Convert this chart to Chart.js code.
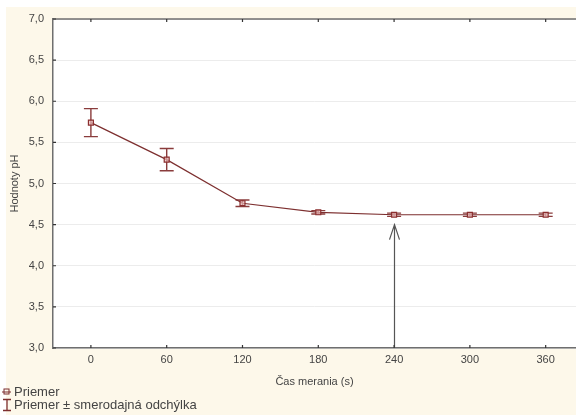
<!DOCTYPE html>
<html>
<head>
<meta charset="utf-8">
<script src="https://cdn.jsdelivr.net/npm/chart.js@4.4.0/dist/chart.umd.min.js"></script>
<style>
  html, body { margin: 0; padding: 0; background: #fff; }
  #wrap { width: 576px; height: 415px; }
</style>
</head>
<body>
<div id="wrap"><canvas id="ph"></canvas></div>
<script>
// measurement times (s), mean pH and standard deviation
const times = [0, 60, 120, 180, 240, 300, 360];
const meanPh = [5.74, 5.29, 4.76, 4.65, 4.62, 4.62, 4.62];
const sdPh = [0.17, 0.135, 0.04, 0.02, 0.02, 0.02, 0.02];
const xTicks = [0, 60, 120, 180, 240, 300, 360];
const arrowAt = 240;
const arrowTop = 4.5;

const lineColor = '#7d2f2f';
const axisColor = '#6f6f6f';
const textColor = '#444';
const fontFamily = 'Liberation Sans, Arial, sans-serif';

const comma = v => Number(v).toFixed(1).replace('.', ',');

// page frame, top border and inward tick marks
const framePlugin = {
  id: 'frame',
  beforeDraw(chart) {
    const { ctx, chartArea: a } = chart;
    ctx.save();
    ctx.fillStyle = '#fff';
    ctx.fillRect(0, 0, chart.width, chart.height);
    ctx.fillStyle = '#fdf8ea';
    ctx.fillRect(6, 7, chart.width - 6, chart.height - 7);
    ctx.fillStyle = '#fff';
    ctx.fillRect(a.left, a.top, a.right - a.left, a.bottom - a.top);
    ctx.restore();
  },
  afterDraw(chart) {
    const { ctx, chartArea: a, scales } = chart;
    ctx.save();
    ctx.strokeStyle = axisColor;
    ctx.lineWidth = 1.5;
    ctx.beginPath();
    ctx.moveTo(a.left, a.top);
    ctx.lineTo(a.right, a.top);
    ctx.stroke();
    ctx.lineWidth = 1.2;
    ctx.strokeStyle = '#333';
    ctx.beginPath();
    xTicks.forEach(t => {
      const px = scales.x.getPixelForValue(t);
      ctx.moveTo(px, a.top); ctx.lineTo(px, a.top + 3);
      ctx.moveTo(px, a.bottom); ctx.lineTo(px, a.bottom - 3);
    });
    scales.y.ticks.forEach(t => {
      const py = scales.y.getPixelForValue(t.value);
      ctx.moveTo(a.left, py); ctx.lineTo(a.left + 3, py);
    });
    ctx.stroke();

    // legend
    ctx.font = '13px ' + fontFamily;
    ctx.fillStyle = textColor;
    ctx.textBaseline = 'middle';
    ctx.fillText('Priemer', 14, 392);
    ctx.fillText('Priemer \u00b1 smerodajn\u00e1 odch\u00fdlka', 14, 405);
    ctx.strokeStyle = lineColor;
    ctx.lineWidth = 1;
    ctx.beginPath();
    ctx.moveTo(2, 392); ctx.lineTo(11, 392);
    ctx.stroke();
    ctx.strokeRect(4, 389, 5, 5);
    ctx.lineWidth = 1.3;
    ctx.beginPath();
    ctx.moveTo(3, 399.5); ctx.lineTo(11, 399.5);
    ctx.moveTo(7, 399.5); ctx.lineTo(7, 410.5);
    ctx.moveTo(3, 410.5); ctx.lineTo(11, 410.5);
    ctx.stroke();
    ctx.restore();
  }
};

// standard deviation whiskers
const errorBarPlugin = {
  id: 'errorBars',
  beforeDatasetsDraw(chart) {
    const { ctx, scales } = chart;
    ctx.save();
    ctx.strokeStyle = '#8a3c3c';
    ctx.lineWidth = 1.4;
    times.forEach((t, i) => {
      const px = scales.x.getPixelForValue(t);
      const hi = scales.y.getPixelForValue(meanPh[i] + sdPh[i]);
      const lo = scales.y.getPixelForValue(meanPh[i] - sdPh[i]);
      ctx.beginPath();
      ctx.moveTo(px, hi); ctx.lineTo(px, lo);
      ctx.moveTo(px - 7, hi); ctx.lineTo(px + 7, hi);
      ctx.moveTo(px - 7, lo); ctx.lineTo(px + 7, lo);
      ctx.stroke();
    });
    ctx.restore();
  },
  afterDatasetsDraw(chart) {
    // arrow pointing at the 240 s reading
    const { ctx, scales } = chart;
    const px = Math.round(scales.x.getPixelForValue(arrowAt)) + 0.5;
    const y0 = scales.y.getPixelForValue(scales.y.min);
    const y1 = scales.y.getPixelForValue(arrowTop);
    ctx.save();
    ctx.strokeStyle = '#555';
    ctx.lineWidth = 1.2;
    ctx.beginPath();
    ctx.moveTo(px, y0); ctx.lineTo(px, y1);
    ctx.moveTo(px - 5, y1 + 15); ctx.lineTo(px, y1); ctx.lineTo(px + 5, y1 + 15);
    ctx.stroke();
    ctx.restore();
  }
};

new Chart(document.getElementById('ph'), {
  type: 'line',
  data: {
    datasets: [{
      label: 'Priemer',
      data: times.map((t, i) => ({ x: t, y: meanPh[i] })),
      borderColor: lineColor,
      borderWidth: 1.2,
      pointStyle: 'rect',
      pointRadius: 3.5,
      pointBorderWidth: 1.2,
      pointBorderColor: '#8b2f2f',
      pointBackgroundColor: 'rgba(235,190,190,0.7)',
      tension: 0
    }]
  },
  options: {
    responsive: true,
    maintainAspectRatio: false,
    animation: false,
    layout: { autoPadding: false, padding: { top: 19, right: 0, bottom: 28, left: 0 } },
    plugins: {
      legend: { display: false },
      tooltip: { enabled: false }
    },
    scales: {
      x: {
        type: 'linear',
        min: -30,
        max: 384,
        afterBuildTicks: s => { s.ticks = xTicks.map(v => ({ value: v })); },
        afterFit: s => { s.height = 39; s.paddingLeft = 0; s.paddingRight = 0; },
        grid: { display: false, drawTicks: false },
        border: { color: axisColor, width: 1.5 },
        ticks: {
          padding: 5,
          color: textColor,
          font: { size: 11, family: fontFamily },
          maxRotation: 0
        },
        title: {
          display: true,
          text: '\u010cas merania (s)',
          color: textColor,
          padding: { top: 0, bottom: -2 },
          font: { size: 11, family: fontFamily }
        }
      },
      y: {
        min: 3,
        max: 7,
        afterFit: s => { s.width = 53; s.paddingTop = 0; s.paddingBottom = 0; },
        grid: { color: '#ececec', drawTicks: false },
        border: { color: axisColor, width: 1.5 },
        ticks: {
          stepSize: 0.5,
          padding: 9,
          color: textColor,
          font: { size: 11, family: fontFamily },
          callback: v => comma(v)
        },
        title: {
          display: true,
          text: 'Hodnoty pH',
          color: textColor,
          padding: { top: 8, bottom: 0 },
          font: { size: 11, family: fontFamily }
        }
      }
    }
  },
  plugins: [framePlugin, errorBarPlugin]
});
</script>
</body>
</html>
